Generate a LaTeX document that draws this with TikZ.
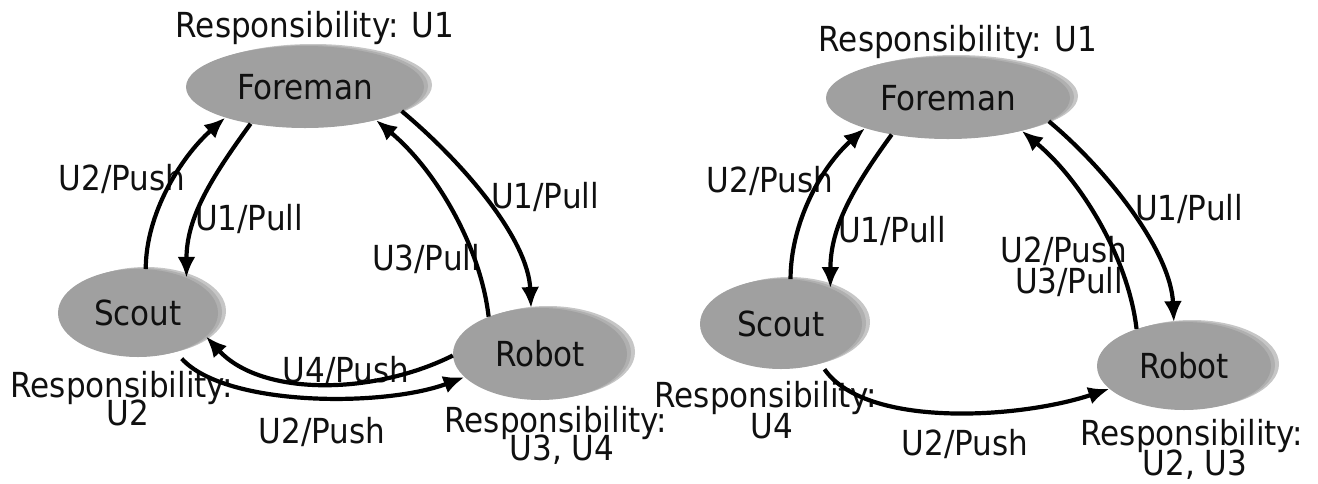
\documentclass[tikz,border=0pt]{standalone}
\usepackage{fontspec}
\setmainfont{DejaVu Sans Condensed}
\usetikzlibrary{shapes.geometric,arrows.meta,shadows}
\definecolor{nodegray}{HTML}{A0A0A0}
\definecolor{shadA}{HTML}{C6C6C6}
\definecolor{shadB}{HTML}{B0B0B0}
\definecolor{txt}{HTML}{101010}
\begin{document}
\begin{tikzpicture}[x=1pt,y=-1pt,
  every node/.style={font=\fontsize{34.5}{28}\selectfont, inner sep=0pt, text=txt},
  lbl/.style={anchor=base},
  enode/.style={ellipse, fill=nodegray,
    general shadow={fill=shadA, shadow xshift=8pt, shadow yshift=2pt},
    general shadow={fill=shadB, shadow xshift=4pt, shadow yshift=1pt}},
  conn/.style={line width=4.2pt, draw=black, -{Latex[length=21pt,width=18pt]}}]
\useasboundingbox (0,0) rectangle (1318,483);

% ---------- left diagram ----------
\node[enode, minimum width=238pt, minimum height=82pt] (fL) at (305,87) {Foreman};
\node[enode, minimum width=160pt, minimum height=88pt] (sL) at (138,313) {Scout};
\node[enode, minimum width=174pt, minimum height=92pt] (rL) at (540,354) {Robot};

\node[lbl] (respfL) at (315,37) {Responsibility: U1};
\node[lbl] (respsL) at (122,397) {Responsibility:};
\node[lbl] (respsL2) at (128,425) {U2};
\node[lbl] (resprL) at (556,432) {Responsibility:};
\node[lbl] (resprL2) at (562,460) {U3, U4};

\node[lbl] (l1) at (122,190) {U2/Push};
\node[lbl] (l2) at (249,230) {U1/Pull};
\node[lbl] (l3) at (545,208) {U1/Pull};
\node[lbl] (l4) at (426,270) {U3/Pull};
\node[lbl] (l5) at (346,382) {U4/Push};
\node[lbl] (l6) at (322,443) {U2/Push};

\draw[conn] (sL.80) .. controls +(0,-55) and +(-45,40) .. (fL.201);
\draw[conn] (fL.214) .. controls +(-40,55) and +(0,-60) .. (sL.36);
\draw[conn] (rL.144) .. controls +(-8,-70) and +(60,50) .. (fL.335);
\draw[conn] (fL.346) .. controls +(60,50) and +(-3,-70) .. (rL.101);
\draw[conn] (rL.181) .. controls +(-80,40) and +(55,60) .. (sL.341);
\draw[conn, shorten <=9pt] (sL.314) .. controls +(50,55) and +(-80,30) .. (rL.197);

% ---------- right diagram ----------
\node[enode, minimum width=244pt, minimum height=82pt] (fR) at (948,98) {Foreman};
\node[enode, minimum width=162pt, minimum height=90pt] (sR) at (781,324) {Scout};
\node[enode, minimum width=174pt, minimum height=88pt] (rR) at (1184,366) {Robot};

\node[lbl] (respfR) at (958,51) {Responsibility: U1};
\node[lbl] (respsR) at (766,407) {Responsibility:};
\node[lbl] (respsR2) at (772,438) {U4};
\node[lbl] (resprR) at (1192,445) {Responsibility:};
\node[lbl] (resprR2) at (1195,475) {U2, U3};

\node[lbl] (m1) at (770,192) {U2/Push};
\node[lbl] (m2) at (892,242) {U1/Pull};
\node[lbl] (m3) at (1189,220) {U1/Pull};
\node[lbl] (m4) at (1064,262) {U2/Push};
\node[lbl] (m5) at (1069,293) {U3/Pull};
\node[lbl] (m6) at (965,455) {U2/Push};

\draw[conn] (sR.78) .. controls +(0,-55) and +(-45,40) .. (fR.200);
\draw[conn] (fR.213) .. controls +(-40,55) and +(0,-60) .. (sR.36);
\draw[conn] (rR.142) .. controls +(-8,-70) and +(60,50) .. (fR.336);
\draw[conn] (fR.347) .. controls +(60,50) and +(-3,-70) .. (rR.103);
\draw[conn, shorten <=7pt] (sR.315) .. controls +(45,65) and +(-90,30) .. (rR.197);
\end{tikzpicture}
\end{document}
